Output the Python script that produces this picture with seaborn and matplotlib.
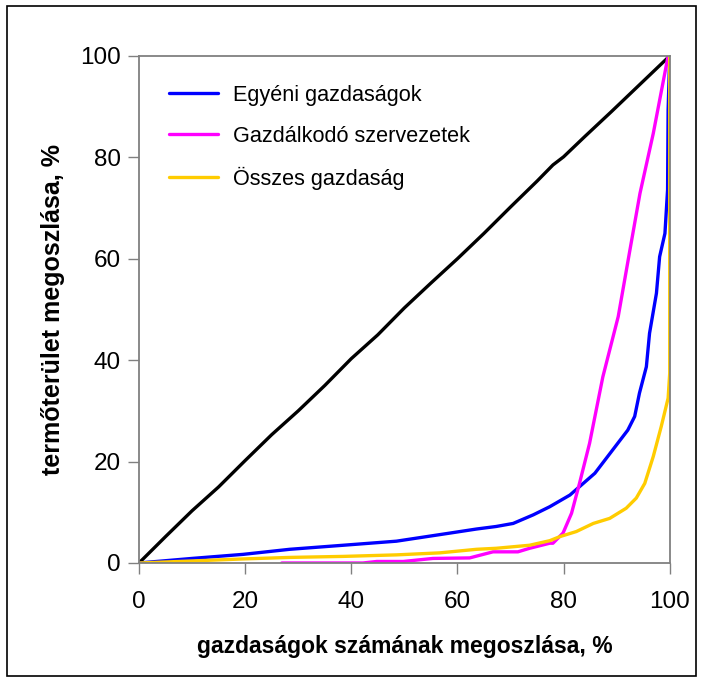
import matplotlib
matplotlib.use("Agg")
import matplotlib.pyplot as plt
import seaborn as sns
import pandas as pd
from matplotlib.patches import Rectangle

# ---- data ----
diag_x = [0, 5, 10, 15, 20, 25, 30, 35, 40, 45, 50, 55, 60, 65, 70, 75, 78, 80, 84, 89, 95, 100]
diag_y = [0, 5.2, 10.3, 15.0, 20.2, 25.3, 30.0, 35.0, 40.3, 45.0, 50.3, 55.2, 60.0, 65.0, 70.2, 75.3, 78.5, 80.1, 84.1, 89.0, 95.0, 100]

egyeni_x = [0, 10, 19.6, 28.4, 38.5, 48.5, 58.6, 63.6, 67.3, 70.5, 74.3, 77.4, 81.2, 85.9,
            92.1, 93.4, 94.3, 95.6, 96.2, 97.5, 98.1, 99.1, 99.6, 99.7, 100]
egyeni_y = [0, 0.9, 1.7, 2.7, 3.5, 4.3, 5.9, 6.7, 7.2, 7.8, 9.5, 11.1, 13.4, 17.7,
            26.2, 28.9, 33.5, 38.7, 45.3, 53.2, 60.4, 65.0, 73.6, 89.3, 100]

szerv_x = [26.9, 42.2, 44.8, 49.8, 55.4, 62.3, 66.7, 71.4, 73.6, 77.4, 78.0, 79.9, 81.5,
           83.0, 84.9, 87.4, 90.3, 92.5, 94.4, 96.9, 99.7]
szerv_y = [0, 0, 0.3, 0.3, 0.9, 1.0, 2.2, 2.2, 2.9, 3.9, 3.9, 5.9, 9.8,
           15.7, 23.6, 36.7, 48.6, 61.7, 72.9, 84.7, 100]

osszes_x = [0, 10, 19.6, 28.4, 38.5, 48.5, 56.7, 63.6, 67.3, 73.6, 77.4, 79.3, 82.4, 85.6,
            88.7, 91.8, 93.7, 95.3, 96.9, 98.4, 99.7, 100, 100]
osszes_y = [0, 0.4, 0.8, 1.1, 1.3, 1.6, 2.0, 2.7, 2.9, 3.5, 4.4, 5.2, 6.2, 7.8,
            8.8, 10.8, 12.8, 15.7, 21.0, 26.9, 32.5, 37.4, 100]

labels = ["Egyéni gazdaságok", "Gazdálkodó szervezetek", "Összes gazdaság"]
xticks = [0, 20, 40, 60, 80, 100]
yticks = [0, 20, 40, 60, 80, 100]
xlabel = "gazdaságok számának megoszlása, %"
ylabel = "termőterület megoszlása, %"

# ---- plot ----
sns.set_theme(style="white")
plt.rcParams["font.family"] = ["Liberation Sans", "DejaVu Sans"]
plt.rcParams["text.color"] = "black"
plt.rcParams["axes.labelcolor"] = "black"

fig = plt.figure(figsize=(7.02, 6.82), dpi=100)
ax = fig.add_axes([0.198, 0.1745, 0.756, 0.7435])

lw = 2.4
sns.lineplot(x=diag_x, y=diag_y, ax=ax, color="black", lw=lw, sort=False, estimator=None)
sns.lineplot(x=egyeni_x, y=egyeni_y, ax=ax, color="#0000FF", lw=lw, sort=False,
             estimator=None, label=labels[0])
sns.lineplot(x=szerv_x, y=szerv_y, ax=ax, color="#FF00FF", lw=lw, sort=False,
             estimator=None, label=labels[1])
sns.lineplot(x=osszes_x, y=osszes_y, ax=ax, color="#FFCC00", lw=lw, sort=False,
             estimator=None, label=labels[2])

ax.set_xlim(0, 100)
ax.set_ylim(0, 100)
ax.set_xticks(xticks)
ax.set_yticks(yticks)
ax.tick_params(axis="both", which="major", direction="out", length=8, width=1,
               color="#808080", labelcolor="black", labelsize=17.5, pad=5,
               bottom=True, left=True)
ax.tick_params(axis="x", pad=12)
for s in ax.spines.values():
    s.set_color("#808080")
    s.set_linewidth(1.3)

ax.set_xlabel(xlabel, fontsize=16.5, fontweight="bold", labelpad=16)
ax.set_ylabel(ylabel, fontsize=18, fontweight="bold", labelpad=11)

leg = ax.legend(loc="upper left", bbox_to_anchor=(0.02, 0.981), frameon=False,
                fontsize=15.6, handlelength=2.25, handletextpad=0.7, labelspacing=0.92)

fig.patches.append(Rectangle((7 / 702, 6 / 682), 689 / 702, 670 / 682, transform=fig.transFigure,
                             fill=False, edgecolor="black", linewidth=1.2))

fig.savefig("out.png", dpi=100)
